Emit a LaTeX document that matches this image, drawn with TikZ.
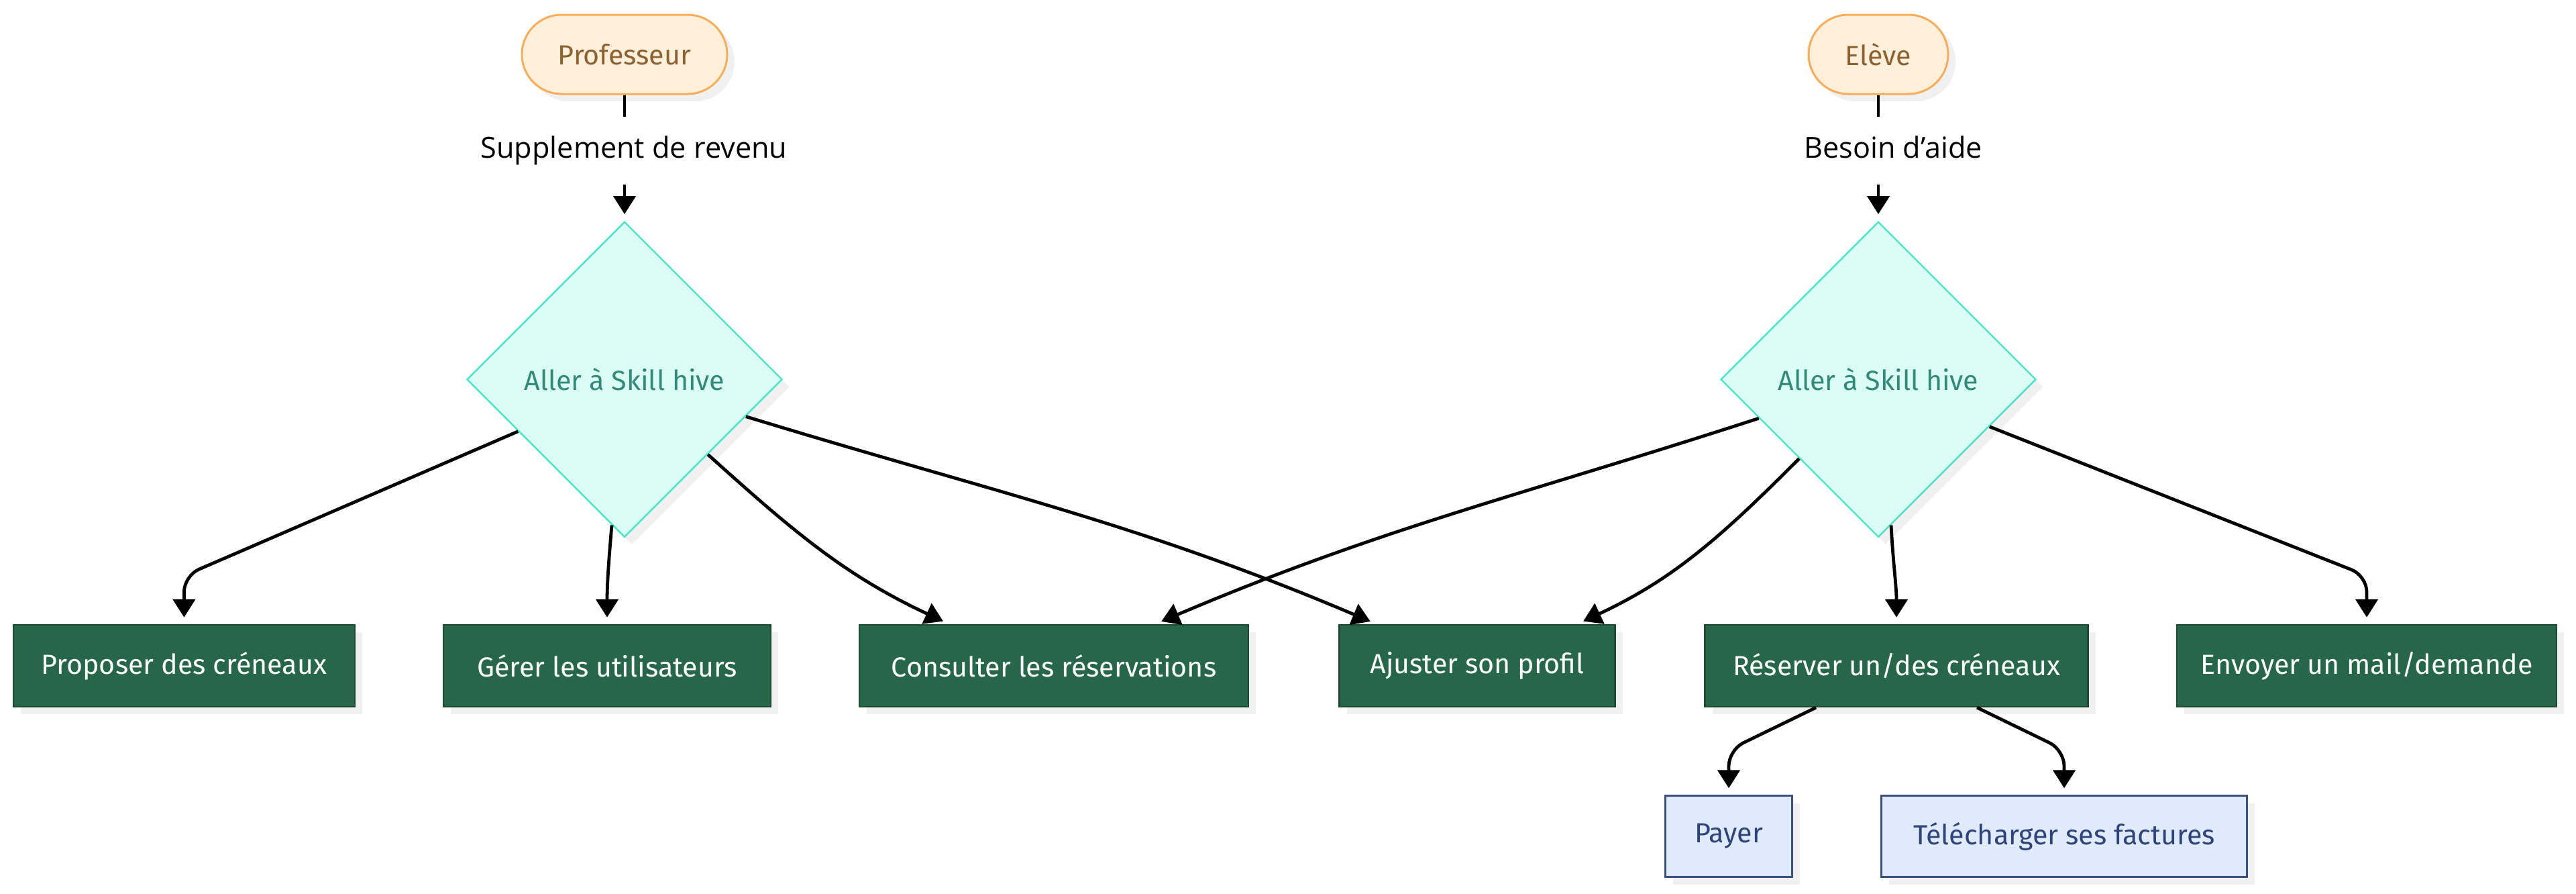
\documentclass[tikz,border=0pt]{standalone}
\usepackage{fontspec}
\setmainfont{Fira Sans}
\newfontfamily\edgefont{Open Sans}
\usetikzlibrary{positioning,shapes.geometric,shadows,arrows.meta}

\definecolor{pillfill}{HTML}{FFEFDB}
\definecolor{pilldraw}{HTML}{F8AE58}
\definecolor{pilltext}{HTML}{8D6130}
\definecolor{skillfill}{HTML}{DCFDF6}
\definecolor{skilldraw}{HTML}{48E5C8}
\definecolor{skilltext}{HTML}{2F8A77}
\definecolor{taskfill}{HTML}{276749}
\definecolor{taskdraw}{HTML}{1E4A35}
\definecolor{subfill}{HTML}{E0EAFD}
\definecolor{subdraw}{HTML}{3A5083}
\definecolor{subtext}{HTML}{2E4379}

\tikzset{
	every node/.style={font=\fontsize{10.3pt}{12pt}\selectfont},
	boxshadow/.style={drop shadow={shadow xshift=2.75pt,shadow yshift=-2.75pt,fill=black!6,opacity=1}},
	pill/.style={boxshadow, draw=pilldraw, fill=pillfill, text=pilltext, line width=0.75pt, rounded corners=14.75pt, minimum height=29.5pt},
	decision/.style={boxshadow, diamond, draw=skilldraw, fill=skillfill, text=skilltext, line width=0.6pt, inner sep=0pt, minimum width=117.5pt, minimum height=117.5pt},
	task/.style={boxshadow, draw=taskdraw, fill=taskfill, text=white, line width=0.6pt, minimum height=30.5pt},
	subtask/.style={boxshadow, draw=subdraw, fill=subfill, text=subtext, line width=0.6pt, minimum height=30.25pt},
	lab/.style={font=\edgefont\fontsize{10.8pt}{13pt}\selectfont, text height=8pt, text depth=2.6pt, minimum height=25pt, inner sep=0pt},
	arr/.style={-{Triangle[length=6.75pt,width=8.25pt]}, line width=1.2pt, shorten >=2.5pt},
}

\begin{document}
\begin{tikzpicture}
	\useasboundingbox (0,0) rectangle (960pt,-332.75pt);

	% professeur side
	\node[pill, minimum width=76.5pt] (prof) at (232.75pt,-20.25pt) {Professeur};
	\node[lab, below=8pt of prof, xshift=3.5pt] (revenu) {Supplement de revenu};
	\node[decision, below=13.5pt of prof |- revenu.south] (skillA) {Aller à Skill hive};

	% eleve side
	\node[pill, minimum width=52pt] (eleve) at (700pt,-20.25pt) {Elève};
	\node[lab, below=8pt of eleve, xshift=5.5pt] (aide) {Besoin d’aide};
	\node[decision, below=13.5pt of eleve |- aide.south] (skillB) {Aller à Skill hive};

	% actions
	\node[task, minimum width=127.25pt] (proposer) at (68.6pt,-248pt) {Proposer des créneaux};
	\node[task, minimum width=122pt] (gerer) at (226.25pt,-248pt) {Gérer les utilisateurs};
	\node[task, minimum width=145pt] (consulter) at (392.75pt,-248pt) {Consulter les réservations};
	\node[task, minimum width=102.75pt] (ajuster) at (550.5pt,-248pt) {Ajuster son profil};
	\node[task, minimum width=142.75pt] (reserver) at (706.75pt,-248pt) {Réserver un/des créneaux};
	\node[task, minimum width=141.5pt] (envoyer) at (882pt,-248pt) {Envoyer un mail/demande};

	\node[subtask, minimum width=47.25pt] (payer) at (644.25pt,-311.5pt) {Payer};
	\node[subtask, minimum width=136.25pt] (factures) at (769.25pt,-311.5pt) {Télécharger ses factures};

	% edge labels sit a little right of the line
	\draw[line width=1.2pt] (prof) -- (prof |- revenu.north);
	\draw[arr] (prof |- revenu.south) -- (skillA);
	\draw[line width=1.2pt] (eleve) -- (eleve |- aide.north);
	\draw[arr] (eleve |- aide.south) -- (skillB);

	\draw[arr, rounded corners=6pt] (skillA.206) -- ([yshift=18pt]proposer.north) -- (proposer.north);
	\draw[arr] (skillA.265) to[out=-95,in=90] (gerer.north);
	\draw[arr] (skillA.318) to[out=-42,in=155] ([xshift=-39pt]consulter.north);
	\draw[arr] (skillA.343) to[out=-17,in=157] ([xshift=-37.5pt]ajuster.north);

	\draw[arr] (skillB.198) to[out=198,in=23] ([xshift=37.75pt]consulter.north);
	\draw[arr] (skillB.225) to[out=225,in=25] ([xshift=37.25pt]ajuster.north);
	\draw[arr] (skillB.275) to[out=-87,in=90] (reserver.north);
	\draw[arr, rounded corners=6pt] (skillB.337) -- ([yshift=18pt]envoyer.north) -- (envoyer.north);

	\draw[arr, rounded corners=6pt] ([xshift=-30pt]reserver.south) -- ([yshift=16.75pt]payer.north) -- (payer.north);
	\draw[arr, rounded corners=6pt] ([xshift=30pt]reserver.south) -- ([yshift=16.75pt]factures.north) -- (factures.north);
\end{tikzpicture}
\end{document}
